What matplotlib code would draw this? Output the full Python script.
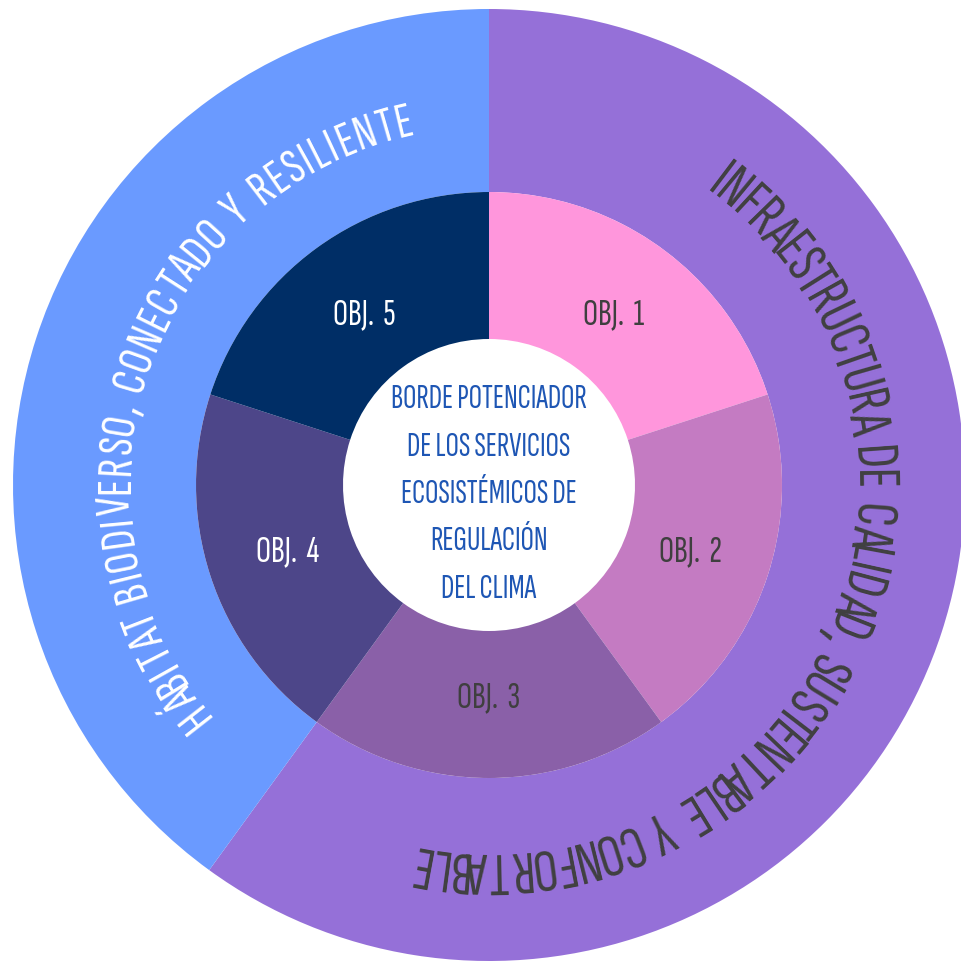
import numpy as np
import matplotlib
matplotlib.use("Agg")
import matplotlib.pyplot as plt
from matplotlib.font_manager import FontProperties

# ---------------- data ----------------
objectives = ["OBJ. 1", "OBJ. 2", "OBJ. 3", "OBJ. 4", "OBJ. 5"]
obj_values = [1, 1, 1, 1, 1]
obj_colors = ["#FF96DC", "#C47BC2", "#8A60A8", "#4D4689", "#002E66"]
obj_text_colors = ["#3F3F3F", "#3F3F3F", "#3F3F3F", "#FFFFFF", "#FFFFFF"]

axis_labels = ["INFRAESTRUCTURA DE CALIDAD, SUSTENTABLE Y CONFORTABLE",
               "HÁBITAT BIODIVERSO, CONECTADO Y RESILIENTE"]
axis_values = [3, 2]          # objectives grouped under each axis
axis_colors = ["#9570D8", "#6A9AFF"]
axis_text_colors = ["#404040", "#FFFFFF"]

center_lines = ["BORDE POTENCIADOR", "DE LOS SERVICIOS", "ECOSISTÉMICOS DE",
                "REGULACIÓN", "DEL CLIMA"]
center_color = "#1E56B4"

FAMILY = ["Sofia Sans Extra Condensed", "DejaVu Sans"]

# ---------------- figure ----------------
W, H = 961, 962
fig = plt.figure(figsize=(W / 100, H / 100), dpi=100)
ax = fig.add_axes([0, 0, 1, 1])
cx, cy = 489, 476
R_out, R_mid, R_in = 476, 293, 146

ax.pie(axis_values, colors=axis_colors, radius=R_out, center=(cx, cy),
       startangle=90, counterclock=False,
       wedgeprops=dict(width=R_out - R_mid, linewidth=0))
ax.pie(obj_values, colors=obj_colors, radius=R_mid, center=(cx, cy),
       startangle=90, counterclock=False,
       wedgeprops=dict(width=R_mid - R_in, linewidth=0))
ax.set_xlim(0, W)
ax.set_ylim(0, H)
ax.set_aspect("equal")
ax.axis("off")

# objective labels
tot = sum(obj_values)
acc = 0
for lab, v, tc in zip(objectives, obj_values, obj_text_colors):
    mid = 90 - (acc + v / 2) / tot * 360
    acc += v
    r = 212
    x = cx + r * np.cos(np.radians(mid))
    y = cy + r * np.sin(np.radians(mid))
    ax.text(x, y, lab.replace(". ", ".  "), ha="center", va="center",
            fontsize=27, color=tc, family=FAMILY, fontweight="semibold")

# center text
ax.text(cx, cy - 8, "\n".join(center_lines), ha="center", va="center",
        fontsize=24, color=center_color, family=FAMILY, fontweight="bold",
        linespacing=1.72)

# curved text along arcs
renderer = fig.canvas.get_renderer()


def tw(s, prop):
    w, h, d = renderer.get_text_width_height_descent(s, prop, ismath=False)
    return w


def curved_text(text, r_base, cap, a_first, a_last, size, color, space_extra):
    prop = FontProperties(family=FAMILY, size=size, weight="semibold")
    centers = []
    nsp = 0
    for i, ch in enumerate(text):
        if ch == " ":
            nsp += 1
            centers.append(None)
            continue
        centers.append(tw(text[:i + 1], prop) - tw(ch, prop) / 2 + nsp * space_extra)
    idx = [i for i, c in enumerate(centers) if c is not None]
    r_c = r_base + cap / 2
    span_nat = centers[idx[-1]] - centers[idx[0]]
    span_goal = np.radians(a_first - a_last) * r_c
    extra = (span_goal - span_nat) / (len(text) - 1)
    for i in idx:
        s = centers[i] - centers[idx[0]] + extra * i
        th = np.radians(a_first) - s / r_c
        ax.text(cx + r_base * np.cos(th), cy + r_base * np.sin(th), text[i],
                ha="center", va="baseline", rotation=np.degrees(th) - 90,
                rotation_mode="anchor", fontsize=size, color=color,
                family=FAMILY, fontweight="semibold")


curved_text(axis_labels[0], 367, 42, 53, -100.5, 44, axis_text_colors[0], 7)
curved_text(axis_labels[1], 360, 36, 218, 103.3, 37, axis_text_colors[1], 4)

fig.savefig("out.png", dpi=100)
